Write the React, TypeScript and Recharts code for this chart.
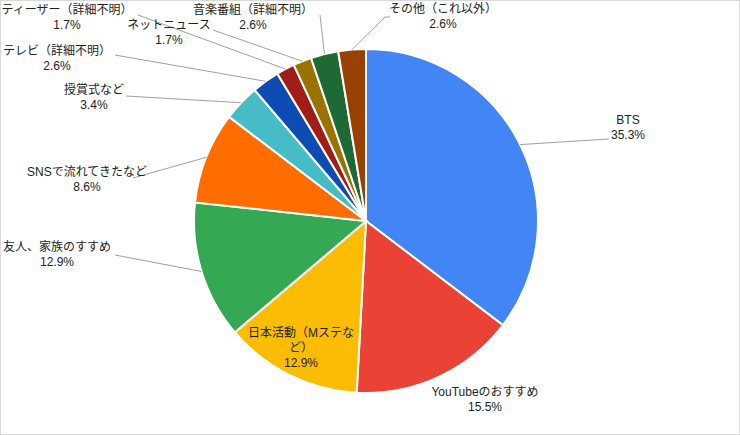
import React from "react";
import { PieChart, Pie, Cell } from "recharts";

const categories = [
  "BTS",
  "YouTubeのおすすめ",
  "日本活動（Mステなど）",
  "友人、家族のすすめ",
  "SNSで流れてきたなど",
  "授賞式など",
  "テレビ（詳細不明）",
  "ティーザー（詳細不明）",
  "ネットニュース",
  "音楽番組（詳細不明）",
  "その他（これ以外）",
];
const counts = [41, 18, 15, 15, 10, 4, 3, 2, 2, 3, 3];
const colors = [
  "#4285F4",
  "#EA4335",
  "#FBBC04",
  "#34A853",
  "#FF6D01",
  "#46BDC6",
  "#0D4DB3",
  "#A11D16",
  "#9A7200",
  "#1E6934",
  "#994100",
];

// label layout: text centre x, first baseline y, leader-line end, optional elbow, wrap length
type LabelLayout = { x: number; y: number; end?: [number, number]; elbow?: [number, number]; wrap?: number };
const labelLayout: LabelLayout[] = [
  { x: 628, y: 124, end: [609, 139] },
  { x: 485, y: 396 },
  { x: 301, y: 337, wrap: 9 },
  { x: 57, y: 251, end: [115, 255] },
  { x: 87, y: 176, end: [133, 178] },
  { x: 94, y: 94, end: [126, 96] },
  { x: 57, y: 55, end: [115, 55] },
  { x: 67, y: 14, end: [138, 15] },
  { x: 169, y: 29, end: [213, 30] },
  { x: 253, y: 14, end: [320, 15] },
  { x: 443, y: 13, end: [390, 17], elbow: [385, 17] },
];

const data = categories.map((name, i) => ({ name, value: counts[i] }));
const total = counts.reduce((a, b) => a + b, 0);

const FONT = "Arial, 'Liberation Sans', 'Noto Sans CJK JP', sans-serif";
const RAD = Math.PI / 180;
const LINE_H = 15;

function renderLabel(props: any) {
  const { cx, cy, midAngle, outerRadius, index, value, name } = props;
  const lay = labelLayout[index];
  if (!lay) return null;
  const sx = cx + outerRadius * Math.cos(-midAngle * RAD);
  const sy = cy + outerRadius * Math.sin(-midAngle * RAD);
  const pct = ((value / total) * 100).toFixed(1) + "%";
  let lines: string[] = [];
  if (lay.wrap) {
    for (let i = 0; i < name.length; i += lay.wrap) lines.push(name.slice(i, i + lay.wrap));
  } else {
    lines = [name];
  }
  lines.push(pct);
  let pts = "";
  if (lay.end) {
    const p: [number, number][] = [[sx, sy]];
    if (lay.elbow) p.push(lay.elbow);
    p.push(lay.end);
    pts = p.map((q) => q.join(",")).join(" ");
  }
  return (
    <g key={"lbl" + index}>
      {lay.end && <polyline points={pts} fill="none" stroke="#a0a0a0" strokeWidth={1} />}
      <text
        x={lay.x}
        y={lay.y}
        textAnchor="middle"
        fontFamily={FONT}
        fontSize={12}
        fill="#222222"
      >
        {lines.map((l, i) => (
          <tspan key={i} x={lay.x} y={lay.y + i * LINE_H}>
            {l}
          </tspan>
        ))}
      </text>
    </g>
  );
}

export default function App() {
  return (
    <div
      style={{
        position: "fixed",
        left: 0,
        top: 0,
        width: 740,
        height: 435,
        background: "#ffffff",
      }}
    >
      <PieChart width={740} height={435} margin={{ top: 0, right: 0, bottom: 0, left: 0 }}>
        <Pie
          data={data}
          dataKey="value"
          nameKey="name"
          cx={366}
          cy={221}
          outerRadius={172}
          startAngle={90}
          endAngle={-270}
          stroke="#ffffff"
          strokeWidth={2}
          label={renderLabel}
          labelLine={false}
          isAnimationActive={false}
        >
          {data.map((d, i) => (
            <Cell key={d.name} fill={colors[i]} />
          ))}
        </Pie>
      </PieChart>
      <div
        style={{
          position: "absolute",
          left: 0,
          top: 0,
          width: 740,
          height: 435,
          boxSizing: "border-box",
          border: "1px solid #d9d9d9",
          pointerEvents: "none",
        }}
      />
    </div>
  );
}
